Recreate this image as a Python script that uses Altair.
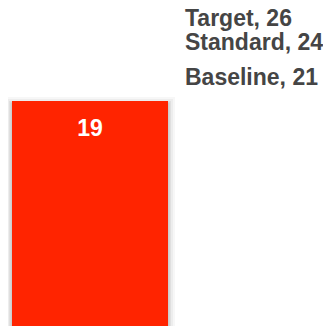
import altair as alt
import pandas as pd

bar_categories = ["Actual"]
bar_values = [19]
ref_names = ["Target", "Standard", "Baseline"]
ref_values = [26, 24, 21]

bars = pd.DataFrame({"cat": bar_categories, "value": bar_values})
refs = pd.DataFrame({
    "cat": bar_categories * len(ref_names),
    "name": ref_names,
    "value": ref_values,
})
refs["label"] = refs["name"] + ", " + refs["value"].astype(str)

FONT = "Liberation Sans"
FS = 23

x = alt.X("cat:N", scale=alt.Scale(paddingInner=0, paddingOuter=0), axis=None)
y = alt.Y("value:Q", scale=alt.Scale(domain=[0, 26.86], nice=False, zero=True), axis=None)

base = alt.Chart(bars).encode(x=x, y=y)

shadow_layers = [
    base.mark_bar(fillOpacity=0, stroke="#000000", strokeOpacity=op, strokeWidth=w)
    .encode(yOffset=alt.value(3))
    for w, op in [(14, 0.03), (10, 0.04), (6, 0.06), (3, 0.08)]
]

bar = base.mark_bar(color="#ff2400")

bar_label = base.mark_text(
    color="white", font=FONT, fontSize=FS, fontWeight="bold",
    baseline="middle", align="center", dy=28,
).encode(text="value:Q")

ref_text = alt.Chart(refs).mark_text(
    color="#454545", font=FONT, fontSize=FS, fontWeight="bold",
    baseline="middle", align="left", dx=17, dy=1,
).encode(
    x=alt.X("cat:N", bandPosition=1, scale=alt.Scale(paddingInner=0, paddingOuter=0), axis=None),
    y=y,
    text="label:N",
)

chart = alt.layer(*shadow_layers, bar, bar_label, ref_text).properties(
    width=156,
    height=318,
    padding={"left": 4, "right": 155, "top": 0, "bottom": 0},
    autosize=alt.AutoSizeParams(type="none"),
    background="white",
).configure_view(stroke=None)

chart.save("out.html", embed_options={"renderer": "svg", "actions": False})
